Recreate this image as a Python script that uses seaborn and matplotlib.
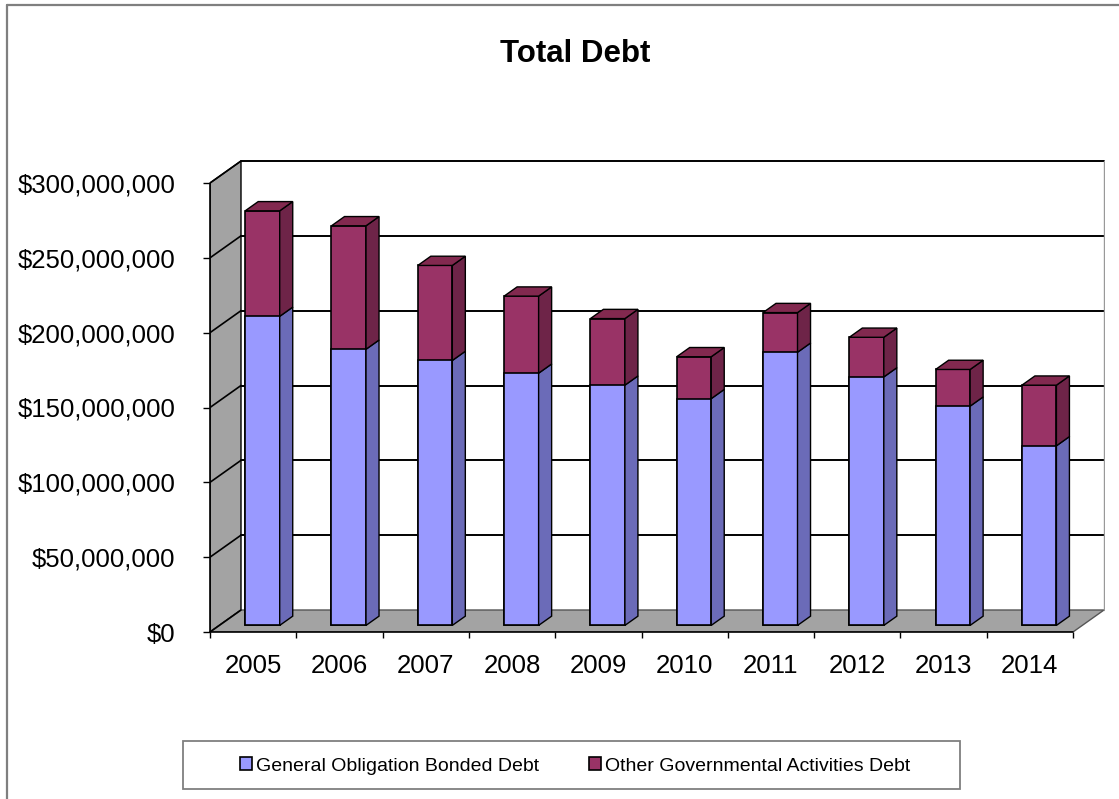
import matplotlib
matplotlib.use("Agg")
import matplotlib.pyplot as plt
from matplotlib.patches import Polygon, Patch, Rectangle
from matplotlib.lines import Line2D
import seaborn as sns
import numpy as np
import pandas as pd

# ---- data ----
years = ["2005", "2006", "2007", "2008", "2009", "2010", "2011", "2012", "2013", "2014"]
general_obligation = [206.5e6, 184.5e6, 177.0e6, 168.5e6, 160.5e6, 151.5e6, 182.5e6, 166.0e6, 146.5e6, 120.0e6]
other_governmental = [70.5e6, 82.5e6, 63.5e6, 51.5e6, 44.5e6, 28.0e6, 26.5e6, 26.5e6, 24.5e6, 40.5e6]
y_ticks = [0, 50e6, 100e6, 150e6, 200e6, 250e6, 300e6]
y_tick_labels = ["$0", "$50,000,000", "$100,000,000", "$150,000,000", "$200,000,000",
                 "$250,000,000", "$300,000,000"]
series_names = ["General Obligation Bonded Debt", "Other Governmental Activities Debt"]
title = "Total Debt"

sns.set_style("white")
plt.rcParams["font.family"] = ["Liberation Sans", "DejaVu Sans"]
plt.rcParams["text.color"] = "black"
plt.rcParams["xtick.color"] = "black"
plt.rcParams["ytick.color"] = "black"
plt.rcParams["xtick.labelcolor"] = "black"
plt.rcParams["ytick.labelcolor"] = "black"

BLUE = "#9999FF"
BLUE_SIDE = "#6B6BB8"
RED = "#993366"
RED_SIDE = "#6E2448"
RED_TOP = "#82294F"
GREY = "#A3A3A3"

W, H = 1119, 799
fig = plt.figure(figsize=(W / 100, H / 100), dpi=100)
fig.patch.set_facecolor("white")

# axes: front plane left=210, bottom=632; back wall right=1105, top=160
ax_l, ax_r, ax_b, ax_t = 210, 1105, 632, 160
ax = fig.add_axes([ax_l / W, 1 - ax_b / H, (ax_r - ax_l) / W, (ax_b - ax_t) / H])

cat_px = (1073 - 210) / 10.0
ymax_front = 300e6
px_per_val = 449 / ymax_front
DX = 31 / cat_px            # depth offset in category units
DY = 22 / px_per_val        # depth offset in value units
t0, t1 = 0.3, 0.72          # bar depth range
bw = 0.4

df = pd.DataFrame({"year": years,
                   "go": general_obligation,
                   "other": other_governmental})
df["total"] = df["go"] + df["other"]

sns.barplot(data=df, x="year", y="total", color=RED, width=bw, saturation=1,
            edgecolor="black", linewidth=1.2, errorbar=None, ax=ax, zorder=3)
sns.barplot(data=df, x="year", y="go", color=BLUE, width=bw, saturation=1,
            edgecolor="black", linewidth=1.2, errorbar=None, ax=ax, zorder=4)

bars_red = list(ax.containers[0])
bars_blue = list(ax.containers[1])
for p in bars_red + bars_blue:
    p.set_x(p.get_x() + t0 * DX)
    p.set_y(p.get_y() + t0 * DY)

ddx = (t1 - t0) * DX
ddy = (t1 - t0) * DY
for pb, pr in zip(bars_blue, bars_red):
    xl = pb.get_x()
    xr = xl + pb.get_width()
    y0 = pb.get_y()
    yb = y0 + pb.get_height()
    yt = pr.get_y() + pr.get_height()
    ax.add_patch(Polygon([(xr, y0), (xr, yb), (xr + ddx, yb + ddy), (xr + ddx, y0 + ddy)],
                         closed=True, facecolor=BLUE_SIDE, edgecolor="black", lw=1.0, zorder=4))
    ax.add_patch(Polygon([(xr, yb), (xr, yt), (xr + ddx, yt + ddy), (xr + ddx, yb + ddy)],
                         closed=True, facecolor=RED_SIDE, edgecolor="black", lw=1.0, zorder=4))
    ax.add_patch(Polygon([(xl, yt), (xr, yt), (xr + ddx, yt + ddy), (xl + ddx, yt + ddy)],
                         closed=True, facecolor=RED_TOP, edgecolor="black", lw=1.0, zorder=4))

x0, x1 = -0.5, len(years) - 0.5
# left wall
ax.add_patch(Polygon([(x0, 0), (x0 + DX, DY), (x0 + DX, ymax_front + DY), (x0, ymax_front)],
                     closed=True, facecolor=GREY, edgecolor="black", lw=1.0, zorder=1))
# floor
ax.add_patch(Polygon([(x0, 0), (x1, 0), (x1 + DX, DY), (x0 + DX, DY)],
                     closed=True, facecolor=GREY, edgecolor="#555555", lw=1.0, zorder=1))
# gridlines on back wall & side wall
for v in y_ticks:
    if v > 0:
        ax.plot([x0 + DX, x1 + DX], [v + DY, v + DY], color="black", lw=1.4, zorder=2)
    ax.plot([x0, x0 + DX], [v, v + DY], color="black", lw=1.2, zorder=2)
# back wall right edge
ax.plot([x1 + DX, x1 + DX], [DY, ymax_front + DY], color="#999999", lw=1.0, zorder=2)
# front axis lines
ax.plot([x0, x0], [0, ymax_front], color="black", lw=1.2, zorder=5, clip_on=False)
ax.plot([x0, x1], [0, 0], color="black", lw=1.2, zorder=5, clip_on=False)

ax.set_xlim(x0, x0 + (ax_r - ax_l) / cat_px)
ax.set_ylim(0, (ax_b - ax_t) / px_per_val)
for s in ax.spines.values():
    s.set_visible(False)
ax.set_xlabel("")
ax.set_ylabel("")
ax.grid(False)

ax.set_yticks(y_ticks)
ax.set_yticklabels(y_tick_labels, fontsize=18.5, color="black")
ax.tick_params(axis="y", which="major", left=True, length=5, width=1, color="black",
               labelcolor="black", direction="out", pad=20)
ax.set_xticks(range(len(years)))
ax.set_xticklabels(years, fontsize=18.5, color="black")
ax.set_xticks(np.arange(len(years) + 1) - 0.5, minor=True)
ax.tick_params(axis="x", which="major", bottom=True, length=0, pad=16, labelcolor="black")
ax.tick_params(axis="x", which="minor", bottom=True, length=4.5, width=1, color="black",
               direction="out")

# title
fig.text(575 / W, 1 - 54 / H, title, fontsize=22.5, fontweight="bold",
         ha="center", va="center", color="black")

# outer chart border
fig.add_artist(Line2D([7 / W, 7 / W], [0, 1 - 5 / H], transform=fig.transFigure,
                      color="#7F7F7F", lw=1.6))
fig.add_artist(Line2D([7 / W, 1], [1 - 5 / H, 1 - 5 / H], transform=fig.transFigure,
                      color="#7F7F7F", lw=1.6))

# legend box
fig.add_artist(Rectangle((183 / W, 1 - 789 / H), (960 - 183) / W, 48 / H,
                         transform=fig.transFigure, facecolor="white",
                         edgecolor="#7F7F7F", lw=1.3))
handles = [Patch(facecolor=BLUE, edgecolor="black", lw=1.2),
           Patch(facecolor=RED, edgecolor="black", lw=1.2)]
leg = fig.legend(handles=handles, labels=series_names, ncol=2, frameon=False,
                 loc="center", bbox_to_anchor=(575 / W, 1 - 766 / H), fontsize=14,
                 handlelength=0.6, handleheight=0.6, handletextpad=0.2, columnspacing=2.6,
                 borderpad=0)
for t in leg.get_texts():
    t.set_color("black")

fig.savefig("out.png", dpi=100)
